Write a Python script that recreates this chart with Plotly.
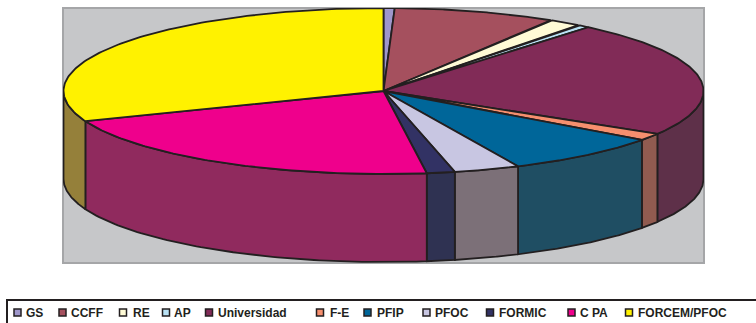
import numpy as np
import plotly.graph_objects as go

categories = ["GS", "CCFF", "RE", "AP", "Universidad", "F-E", "PFIP", "PFOC", "FORMIC", "C PA", "FORCEM/PFOC"]
values = [0.56, 8.2, 1.67, 0.64, 22.6, 1.39, 8.06, 3.33, 1.42, 21.25, 30.94]
top_colors = ["#9f97cb", "#a5505e", "#fffbd6", "#b9e2f4", "#812b57", "#f68f6e", "#006699", "#c8c6e2", "#323264", "#ef008c", "#fff200"]
side_colors = ["#6e6a8c", "#733841", "#b2af96", "#819eaa", "#5e3049", "#915b50", "#1f4e63", "#7c7078", "#2f3252", "#902a5e", "#95803a"]
legend_swatch_px = [17.5, 62.5, 123, 166, 209, 320, 367.5, 426.5, 490, 571.5, 629]
legend_text_px = [26, 70.5, 132.5, 174, 218, 330, 377, 435, 499, 580, 638]

W, H = 756, 323
PLOT_L, PLOT_R, PLOT_T, PLOT_B = 63, 704, 8, 263
RX, RY, DEPTH = 320, 83, 88
CY_PX = 91
LINE = "#231f20"
line = dict(color=LINE, width=1.8)

fracs = np.array(values) / sum(values) * 360
ends = np.cumsum(fracs)
starts = ends - fracs

def ex(t): return RX * np.sin(np.radians(t))
def ey(t): return RY * np.cos(np.radians(t))

fig = go.Figure()

# rim of the cake, only the part facing the viewer
for name, a, b, col in zip(categories, starts, ends, side_colors):
    lo, hi = max(a, 90), min(b, 270)
    if hi <= lo:
        continue
    t = np.linspace(lo, hi, 80)
    xs = np.r_[ex(t), ex(t[::-1]), ex(t[0])]
    ys = np.r_[ey(t), ey(t[::-1]) - DEPTH, ey(t[0])]
    fig.add_trace(go.Scatter(x=xs, y=ys, mode="lines", fill="toself", fillcolor=col, line=line,
                             name=name, showlegend=False, hoverinfo="skip"))

# top face
for name, v, a, b, col in zip(categories, values, starts, ends, top_colors):
    t = np.linspace(a, b, 120)
    xs = np.r_[0, ex(t), 0]
    ys = np.r_[0, ey(t), 0]
    fig.add_trace(go.Scatter(x=xs, y=ys, mode="lines", fill="toself", fillcolor=col, line=line,
                             name=name, showlegend=False, hovertemplate=f"{name}: {v}%<extra></extra>"))

shapes = [dict(type="rect", xref="paper", yref="paper", x0=7 / W, x1=1.02, y0=-0.05, y1=1 - 300 / H,
               line=dict(color=LINE, width=2), fillcolor="white", layer="below")]
annotations = []
LEG_Y = 312.5
for name, col, sx, tx in zip(categories, top_colors, legend_swatch_px, legend_text_px):
    shapes.append(dict(type="rect", xref="paper", yref="paper", x0=(sx - 3.5) / W, x1=(sx + 3.5) / W,
                       y0=1 - (LEG_Y + 3.5) / H, y1=1 - (LEG_Y - 3.5) / H,
                       line=dict(color=LINE, width=1.5), fillcolor=col))
    annotations.append(dict(text=f"<b>{name}</b>", xref="paper", yref="paper", x=tx / W, y=1 - LEG_Y / H,
                            xanchor="left", yanchor="middle", showarrow=False, xshift=-2,
                            font=dict(family="Liberation Sans", size=12, color=LINE)))

fig.update_layout(
    width=W, height=H, autosize=False, showlegend=False,
    margin=dict(l=0, r=0, t=0, b=0),
    paper_bgcolor="white", plot_bgcolor="#c6c7c9",
    xaxis=dict(domain=[PLOT_L / W, PLOT_R / W], range=[PLOT_L - (PLOT_L + PLOT_R) / 2, PLOT_R - (PLOT_L + PLOT_R) / 2],
               visible=False, fixedrange=True),
    yaxis=dict(domain=[1 - PLOT_B / H, 1 - PLOT_T / H], range=[CY_PX - PLOT_B, CY_PX - PLOT_T],
               visible=False, fixedrange=True),
    shapes=shapes + [dict(type="rect", xref="x domain", yref="y domain", x0=0, x1=1, y0=0, y1=1,
                          line=dict(color="#a5a6a8", width=2), layer="below")],
    annotations=annotations,
)
fig.write_html("out.html", post_script="document.body.style.margin='0';document.documentElement.style.overflow='hidden';",
               config={"displayModeBar": False})
